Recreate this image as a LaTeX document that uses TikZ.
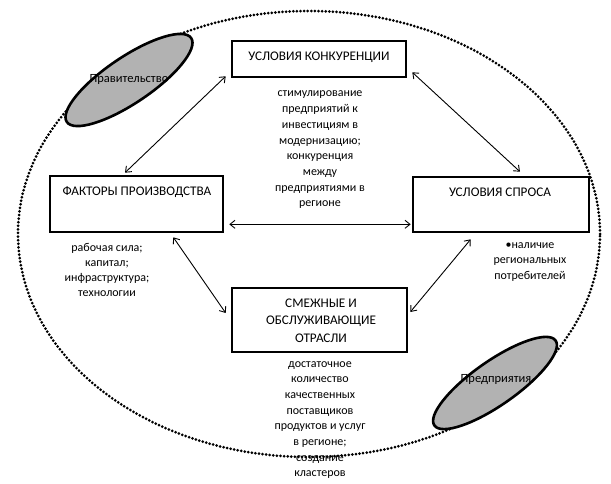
\documentclass[tikz,border=0pt]{standalone}
\usepackage{fontspec}
\setmainfont{Carlito}
\usetikzlibrary{shapes.geometric,arrows.meta}
\begin{document}
\begin{tikzpicture}[x=1pt,y=-1pt,
  boxnode/.style={draw, line width=2.6pt, inner sep=0pt, rectangle},
  txt/.style={inner sep=0pt, align=center, font=\fontsize{12}{15.7}\selectfont},
  captxt/.style={inner sep=0pt, align=center, font=\fontsize{13.2}{17.5}\selectfont},
  conn/.style={{Straight Barb[length=5pt,width=8pt]}-{Straight Barb[length=5pt,width=8pt]}, line width=0.9pt},
  blob/.style={ellipse, draw, line width=2.6pt, fill=gray!60, inner sep=0pt},
  region/.style={ellipse, draw, line width=3pt, dash pattern=on 0pt off 3.6pt, line cap=round, inner sep=0pt}]
\useasboundingbox (0,0) rectangle (611,484);
\node[region, minimum width=582, minimum height=446] (region) at (309,234) {};
\node[blob, rotate=34, minimum width=150, minimum height=46] (gov) at (129,80) {};
\node[txt, font=\fontsize{12.5}{15}\selectfont] (govt) at (129,79) {Правительство};
\node[blob, rotate=35, minimum width=148, minimum height=44] (ent) at (495,383) {};
\node[txt, font=\fontsize{12.5}{15}\selectfont] (entt) at (496,380) {Предприятия};

\node[boxnode, minimum width=174, minimum height=36] (conc) at (319,59) {};
\node[captxt] (conct) at (319,57) {УСЛОВИЯ КОНКУРЕНЦИИ};
\node[boxnode, minimum width=173, minimum height=56] (fact) at (136.5,204) {};
\node[captxt] (factt) at (137,192) {ФАКТОРЫ ПРОИЗВОДСТВА};
\node[boxnode, minimum width=176, minimum height=55] (dem) at (501,204.5) {};
\node[captxt] (demt) at (500,192) {УСЛОВИЯ СПРОСА};
\node[boxnode, minimum width=175, minimum height=64] (rel) at (319.5,320) {};
\node[captxt] (relt) at (321,320.5) {СМЕЖНЫЕ И\\ОБСЛУЖИВАЮЩИЕ\\ОТРАСЛИ};

\node[txt] (conctxt) at (320,150) {стимулирование\\предприятий к\\инвестициям в\\модернизацию;\\конкуренция\\между\\предприятиями в\\регионе};
\node[txt, font=\fontsize{12}{15.3}\selectfont] (facttxt) at (107,270) {рабочая сила;\\капитал;\\инфраструктура;\\технологии};
\node[txt, font=\fontsize{12}{15.3}\selectfont] (demtxt) at (530,262) {•наличие\\региональных\\потребителей};
\node[txt] (reltxt) at (320,420) {достаточное\\количество\\качественных\\поставщиков\\продуктов и услуг\\в регионе;\\создание\\кластеров};

\draw[conn] ([shift={(-5,-2)}]conc.south west) -- ([shift={(-11.5,-2)}]fact.north);
\draw[conn] ([shift={(5,-6)}]conc.south east) -- ([shift={(19,-4)}]dem.north);
\draw[conn] ([shift={(5,-9)}]fact.south east) -- ([shift={(-1,-9)}]dem.south west);
\draw[conn] ([shift={(-51,4)}]fact.south east) -- ([shift={(-5,-7)}]rel.west);
\draw[conn] ([shift={(2,-8)}]rel.east) -- ([shift={(59,6)}]dem.south west);
\end{tikzpicture}
\end{document}
